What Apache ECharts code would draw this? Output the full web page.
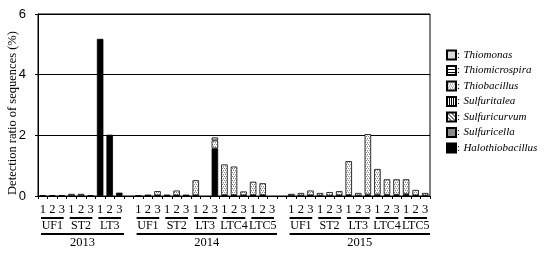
<!DOCTYPE html>
<html>
<head>
<meta charset="utf-8">
<script src="https://cdn.jsdelivr.net/npm/echarts@6/dist/echarts.min.js"></script>
<style>
  html, body { margin: 0; padding: 0; background: #fff; }
  #chart { width: 550px; height: 253px; }
</style>
</head>
<body>
<div id="chart"></div>
<script>
// sampling layout
var years = ['2013', '2014', '2015'];
var sites2013 = ['UF1', 'ST2', 'LT3'];
var sitesLater = ['UF1', 'ST2', 'LT3', 'LTC4', 'LTC5'];
var reps = ['1', '2', '3'];
var yTicks = [0, 2, 4, 6];

// detection ratio (%), 39 samples in order 2013 (9), 2014 (15), 2015 (15)
var thiomonas = [
    0, 0, 0, 0, 0, 0, 0, 0, 0,
    0, 0, 0, 0, 0, 0, 0, 0, 0.1, 0, 0, 0, 0, 0, 0,
    0, 0, 0, 0, 0, 0, 0, 0, 0, 0, 0, 0, 0, 0, 0
];
var thiomicrospira = [
    0, 0, 0, 0, 0, 0, 0, 0, 0,
    0, 0, 0, 0, 0, 0, 0, 0, 0, 0, 0, 0, 0, 0, 0,
    0, 0, 0, 0, 0, 0, 0, 0, 0, 0, 0, 0, 0, 0, 0
];
var thiobacillus = [
    0, 0, 0, 0.06, 0.06, 0, 0, 0, 0,
    0, 0.01, 0.14, 0.01, 0.16, 0.01, 0.5, 0, 0.26, 1.01, 0.94, 0.13, 0.44, 0.39, 0,
    0.06, 0.09, 0.16, 0.09, 0.12, 0.14, 1.12, 0.09, 1.99, 0.84, 0.51, 0.51, 0.49, 0.18, 0.09
];
var sulfuritalea = [
    0, 0, 0, 0, 0, 0, 0, 0, 0,
    0, 0, 0, 0, 0, 0, 0, 0, 0, 0, 0, 0, 0, 0, 0,
    0, 0, 0, 0, 0, 0, 0, 0, 0, 0, 0, 0, 0, 0, 0
];
var sulfuricurvum = [
    0, 0, 0, 0, 0, 0, 0, 0, 0,
    0, 0, 0, 0, 0, 0, 0, 0, 0, 0, 0, 0, 0, 0, 0,
    0, 0, 0, 0, 0, 0, 0, 0, 0, 0, 0, 0, 0, 0, 0
];
var sulfuricella = [
    0, 0, 0, 0, 0, 0, 0, 0, 0,
    0, 0, 0, 0, 0, 0, 0, 0, 0, 0, 0, 0, 0, 0, 0,
    0, 0, 0, 0, 0, 0, 0, 0, 0, 0, 0, 0, 0, 0, 0
];
var halothiobacillus = [
    0.03, 0.03, 0.03, 0.01, 0.01, 0.02, 5.18, 2.02, 0.11,
    0.01, 0.02, 0.02, 0.02, 0.02, 0.02, 0.02, 0, 1.57, 0.03, 0.03, 0.02, 0.03, 0.03, 0,
    0.01, 0.01, 0.02, 0.01, 0.01, 0.02, 0.03, 0.01, 0.05, 0.05, 0.04, 0.04, 0.06, 0.02, 0.01
];

var serif = '"Liberation Serif", "DejaVu Serif", serif';

function pattern(w, h, bg, draw) {
    var c = document.createElement('canvas');
    c.width = w; c.height = h;
    var g = c.getContext('2d');
    g.fillStyle = bg;
    g.fillRect(0, 0, w, h);
    g.fillStyle = '#000';
    draw(g);
    return {image: c, repeat: 'repeat'};
}

var fills = {
    'Thiomonas': '#dcdcdc',
    'Thiomicrospira': pattern(2, 3, '#fff', function (g) { g.fillRect(0, 0, 2, 1); }),
    'Thiobacillus': pattern(4, 4, '#fff', function (g) {
        g.fillStyle = '#8c8c8c';
        g.fillRect(0, 0, 1, 1); g.fillRect(2, 0, 1, 1);
        g.fillRect(1, 2, 1, 1); g.fillRect(3, 2, 1, 1);
        g.fillStyle = '#c8c8c8';
        g.fillRect(1, 1, 1, 1); g.fillRect(3, 3, 1, 1);
    }),
    'Sulfuritalea': pattern(2, 2, '#fff', function (g) { g.fillRect(0, 0, 1, 2); }),
    'Sulfuricurvum': pattern(4, 4, '#fff', function (g) {
        for (var i = 0; i < 4; i++) g.fillRect(i, i, 1, 1);
    }),
    'Sulfuricella': '#8a8a8a',
    'Halothiobacillus': '#000'
};

// build categories with one empty slot between years
var categories = [];
var groups = [];   // {label, first, last}
var yearSpans = []; // {label, first, last}
var sampleIdx = []; // category index -> sample index or -1
var s = 0;
years.forEach(function (yr, yi) {
    if (yi > 0) { categories.push(''); sampleIdx.push(-1); }
    var yFirst = categories.length;
    var sites = yi === 0 ? sites2013 : sitesLater;
    sites.forEach(function (site) {
        var gFirst = categories.length;
        reps.forEach(function (r) {
            categories.push(r);
            sampleIdx.push(s++);
        });
        groups.push({label: site, first: gFirst, last: categories.length - 1});
    });
    yearSpans.push({label: yr, first: yFirst, last: categories.length - 1});
});

function spread(arr) {
    return sampleIdx.map(function (k) {
        if (k < 0 || !arr[k]) return '-';
        return arr[k];
    });
}

var seriesDefs = [
    ['Halothiobacillus', halothiobacillus],
    ['Sulfuricella', sulfuricella],
    ['Sulfuricurvum', sulfuricurvum],
    ['Sulfuritalea', sulfuritalea],
    ['Thiobacillus', thiobacillus],
    ['Thiomicrospira', thiomicrospira],
    ['Thiomonas', thiomonas]
];

var myChart = echarts.init(document.getElementById('chart'));
var option = {
    animation: false,
    grid: {left: 38, right: 120, top: 14, bottom: 57, show: true, borderColor: '#000', borderWidth: 1},
    legend: {
        orient: 'vertical',
        left: 441,
        top: 44,
        itemWidth: 9,
        itemHeight: 9,
        itemGap: 3.5,
        icon: 'rect',
        data: ['Thiomonas', 'Thiomicrospira', 'Thiobacillus', 'Sulfuritalea', 'Sulfuricurvum', 'Sulfuricella', 'Halothiobacillus'],
        formatter: function (name) { return '{c|:} {i|' + name + '}'; },
        textStyle: {
            padding: [0, 0, 0, -4],
            rich: {
                c: {fontFamily: serif, fontSize: 11, color: '#000', lineHeight: 13},
                i: {fontFamily: serif, fontSize: 11, fontStyle: 'italic', color: '#000', lineHeight: 13}
            }
        }
    },
    xAxis: {
        type: 'category',
        data: categories,
        axisLine: {lineStyle: {color: '#000', width: 1}},
        axisTick: {show: true, interval: 0, length: 3, lineStyle: {color: '#000'}},
        axisLabel: {interval: 0, margin: 7, color: '#000', fontFamily: serif, fontSize: 12.5}
    },
    yAxis: {
        type: 'value',
        min: yTicks[0],
        max: yTicks[yTicks.length - 1],
        interval: 2,
        axisLine: {show: true, lineStyle: {color: '#000'}},
        axisTick: {show: true, length: 3, lineStyle: {color: '#000'}},
        axisLabel: {color: '#000', fontFamily: '"Liberation Sans", Arial, sans-serif', fontSize: 13, margin: 12},
        splitLine: {lineStyle: {color: '#000', width: 1}}
    },
    series: seriesDefs.map(function (d) {
        return {
            name: d[0],
            type: 'bar',
            stack: 'all',
            barWidth: 6.5,
            data: spread(d[1]),
            itemStyle: {color: fills[d[0]], borderColor: '#000', borderWidth: 0.8}
        };
    })
};
myChart.setOption(option);

// group and year labels under the axis
var x0 = myChart.convertToPixel({xAxisIndex: 0}, 0);
var step = myChart.convertToPixel({xAxisIndex: 0}, 1) - x0;
var yBase = myChart.convertToPixel({yAxisIndex: 0}, 0);
var els = [];
groups.forEach(function (g) {
    var a = myChart.convertToPixel({xAxisIndex: 0}, g.first) - step / 2 + 3;
    var b = myChart.convertToPixel({xAxisIndex: 0}, g.last) + step / 2 - 3;
    els.push({type: 'line', shape: {x1: a, y1: yBase + 22, x2: b, y2: yBase + 22}, style: {stroke: '#000', lineWidth: 2}});
    els.push({type: 'text', x: (a + b) / 2, y: yBase + 24, style: {text: g.label, font: '12px ' + serif, fill: '#000', textAlign: 'center', textVerticalAlign: 'top'}});
});
yearSpans.forEach(function (g) {
    var a = myChart.convertToPixel({xAxisIndex: 0}, g.first) - step / 2 + 3;
    var b = myChart.convertToPixel({xAxisIndex: 0}, g.last) + step / 2;
    els.push({type: 'line', shape: {x1: a, y1: yBase + 38, x2: b, y2: yBase + 38}, style: {stroke: '#000', lineWidth: 2}});
    els.push({type: 'text', x: (a + b) / 2, y: yBase + 40, style: {text: g.label, font: '12.5px ' + serif, fill: '#000', textAlign: 'center', textVerticalAlign: 'top'}});
});
els.push({
    type: 'text', x: 13, y: 113, rotation: Math.PI / 2,
    style: {text: 'Detection ratio of sequences (%)', font: '12.5px ' + serif, fill: '#000', textAlign: 'center', textVerticalAlign: 'middle'}
});
myChart.setOption({graphic: {elements: els}});
</script>
</body>
</html>
